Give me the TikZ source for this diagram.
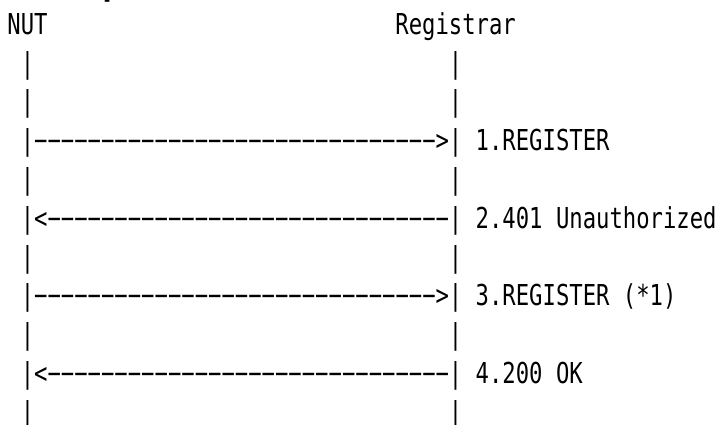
\documentclass[tikz,border=0pt]{standalone}
\usepackage{fontspec}
\setmonofont[FakeStretch=0.772]{DejaVu Sans Mono}

\begin{document}
\begin{tikzpicture}[x=1pt, y=-1pt,
    ascii/.style={font=\ttfamily\fontsize{28.8}{38.8}\selectfont, anchor=base west, inner sep=0pt, outer sep=0pt}]
    \useasboundingbox (0,0) rectangle (717,424);
    \fill[white] (0,0) rectangle (717,424);
    \clip (0,0) rectangle (717,424);

    % cut-off line above the chart
    \node[ascii] (cut) at (101.06,-1.8) {]};

    % heads
    \node[ascii] (nut) at (7.4,34.3) {NUT};
    \node[ascii] (reg) at (395.4,34.3) {Registrar};

    % lifelines
    \foreach \r in {1,...,10} {
        \node[ascii] (nutl\r) at (20.78,{34.3+38.8*\r}) {|};
        \node[ascii] (regl\r) at (448.94,{34.3+38.8*\r}) {|};
    }

    % messages
    \node[ascii] (msg1) at (34.16,150.7) {−−−−−−−−−−−−−−−−−−−−−−−−−−−−−−>};
    \node[ascii] (lbl1) at (475.7,150.7) {1.REGISTER};

    \node[ascii] (msg2) at (34.16,228.3) {<−−−−−−−−−−−−−−−−−−−−−−−−−−−−−−};
    \node[ascii] (lbl2) at (475.7,228.3) {2.401 Unauthorized};

    \node[ascii] (msg3) at (34.16,305.9) {−−−−−−−−−−−−−−−−−−−−−−−−−−−−−−>};
    \node[ascii] (lbl3) at (475.7,305.9) {3.REGISTER (*1)};

    \node[ascii] (msg4) at (34.16,383.5) {<−−−−−−−−−−−−−−−−−−−−−−−−−−−−−−};
    \node[ascii] (lbl4) at (475.7,383.5) {4.200 OK};
\end{tikzpicture}
\end{document}
